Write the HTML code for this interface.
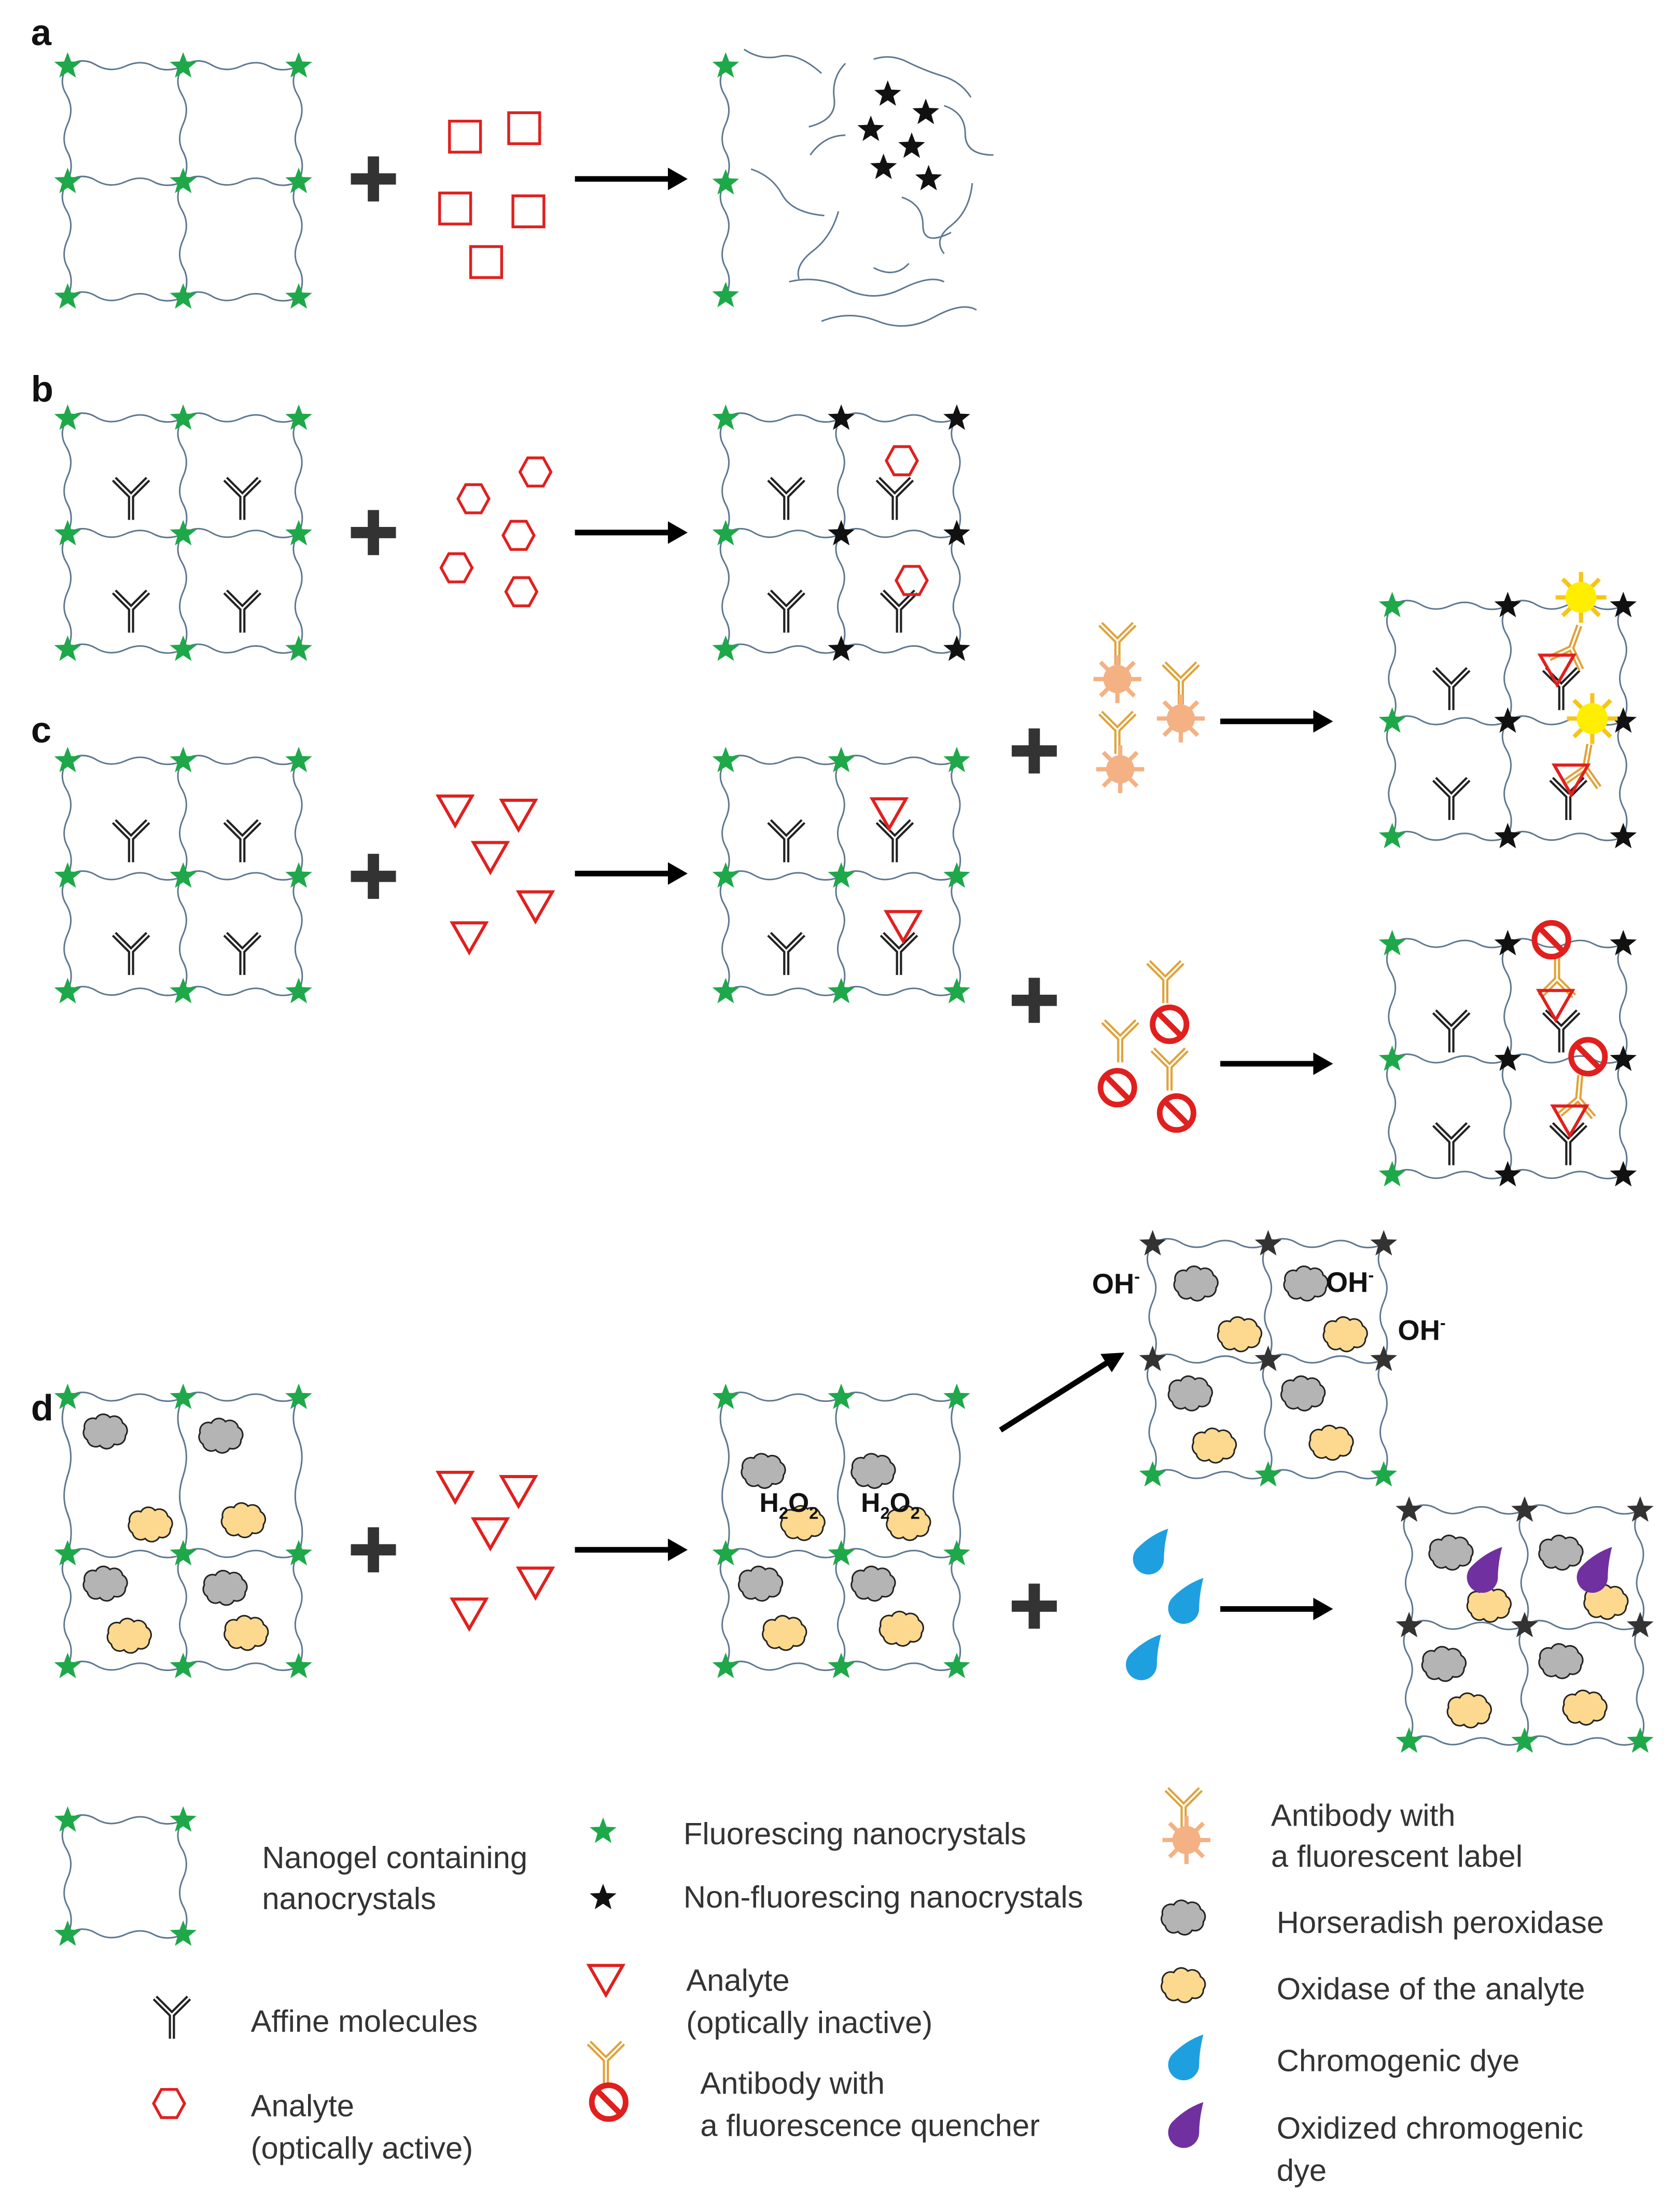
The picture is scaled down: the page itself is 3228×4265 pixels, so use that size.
<!DOCTYPE html>
<html><head><meta charset="utf-8"><style>
html,body{margin:0;padding:0;background:#fff}
svg{display:block}
text{font-family:"Liberation Sans",sans-serif}
.lg{font-size:22px;fill:#333}
.pl{font-size:26px;font-weight:bold;fill:#111}
</style></head><body>
<svg width="3228" height="4265" viewBox="0 0 1188 1570" preserveAspectRatio="none" xmlns="http://www.w3.org/2000/svg" xmlns:xlink="http://www.w3.org/1999/xlink">
<defs>
<polygon id="st" points="0,-10 2.5,-3.4 9.5,-3.1 4,1.3 5.9,8.1 0,4.2 -5.9,8.1 -4,1.3 -9.5,-3.1 -2.5,-3.4"/>
<use id="gs" xlink:href="#st" fill="#1ea84a"/>
<use id="bs" xlink:href="#st" fill="#111"/>
<use id="ds" xlink:href="#st" fill="#333"/>
<path id="wh" d="M0,0 q10,-7 20,-1 t21,1 t20,0 t21,0" fill="none" stroke="#5f7890" stroke-width="1.1"/>
<path id="wv" d="M0,0 q-7,10 -1,20 t1,21 t0,20 t0,21" fill="none" stroke="#5f7890" stroke-width="1.1"/>
<g id="grid">
<use xlink:href="#wh" y="0"/><use xlink:href="#wh" x="82" y="0"/>
<use xlink:href="#wh" y="82"/><use xlink:href="#wh" x="82" y="82"/>
<use xlink:href="#wh" y="164"/><use xlink:href="#wh" x="82" y="164"/>
<use xlink:href="#wv" x="0"/><use xlink:href="#wv" x="0" y="82"/>
<use xlink:href="#wv" x="82"/><use xlink:href="#wv" x="82" y="82"/>
<use xlink:href="#wv" x="164"/><use xlink:href="#wv" x="164" y="82"/>
</g>
<g id="gridD">
<use xlink:href="#wh" y="0"/><use xlink:href="#wh" x="82" y="0"/>
<use xlink:href="#wh" y="111"/><use xlink:href="#wh" x="82" y="111"/>
<use xlink:href="#wh" y="191"/><use xlink:href="#wh" x="82" y="191"/>
<use xlink:href="#wv" transform="scale(1,1.353)"/><use xlink:href="#wv" transform="translate(82,0) scale(1,1.353)"/><use xlink:href="#wv" transform="translate(164,0) scale(1,1.353)"/>
<use xlink:href="#wv" transform="translate(0,111) scale(1,0.976)"/><use xlink:href="#wv" transform="translate(82,111) scale(1,0.976)"/><use xlink:href="#wv" transform="translate(164,111) scale(1,0.976)"/>
</g>
<g id="gstars"><use xlink:href="#gs"/><use xlink:href="#gs" x="82"/><use xlink:href="#gs" x="164"/><use xlink:href="#gs" y="82"/><use xlink:href="#gs" x="82" y="82"/><use xlink:href="#gs" x="164" y="82"/><use xlink:href="#gs" y="164"/><use xlink:href="#gs" x="82" y="164"/><use xlink:href="#gs" x="164" y="164"/></g>
<g id="mixstars"><use xlink:href="#gs"/><use xlink:href="#bs" x="82"/><use xlink:href="#bs" x="164"/><use xlink:href="#gs" y="82"/><use xlink:href="#bs" x="82" y="82"/><use xlink:href="#bs" x="164" y="82"/><use xlink:href="#gs" y="164"/><use xlink:href="#bs" x="82" y="164"/><use xlink:href="#bs" x="164" y="164"/></g>
<g id="ab"><path d="M0,17 V0 L-12,-12 M0,0 L12,-12" fill="none" stroke="#222" stroke-width="4.4"/><path d="M0,17 V0 L-12,-12 M0,0 L12,-12" fill="none" stroke="#fff" stroke-width="1.3"/></g>
<g id="yab"><path d="M0,17 V0 L-12,-12 M0,0 L12,-12" fill="none" stroke="#e0a33a" stroke-width="4.4"/><path d="M0,17 V0 L-12,-12 M0,0 L12,-12" fill="none" stroke="#fff" stroke-width="1.3"/></g>
<polygon id="hex" points="-11,0 -5.5,-10 5.5,-10 11,0 5.5,10 -5.5,10" fill="none" stroke="#e0201e" stroke-width="2"/>
<rect id="sq" x="-11" y="-11" width="22" height="22" fill="none" stroke="#e0201e" stroke-width="2"/>
<polygon id="tri" points="-12,-10 12,-10 0,11" fill="none" stroke="#e0201e" stroke-width="2.2"/>
<g id="fl"><g stroke="#f4b183" stroke-width="3"><path d="M0,-17 V17 M-17,0 H17 M-12,-12 L12,12 M-12,12 L12,-12"/></g><circle r="10" fill="#f4b183"/></g>
<g id="sun"><g stroke="#f5c518" stroke-width="3"><path d="M0,-18 V18 M-18,0 H18 M-13,-13 L13,13 M-13,13 L13,-13"/></g><circle r="11" fill="#ffee00"/></g>
<g id="q"><circle r="12" fill="none" stroke="#e0201e" stroke-width="4"/><path d="M-8,-8 L8,8" stroke="#e0201e" stroke-width="4"/></g>
<path id="cloud" d="M-15,-3 a6,6 0 0 1 8,-7 a6,6 0 0 1 10,-1 a6,6 0 0 1 9,4 a6,6 0 0 1 2,9 a6,6 0 0 1 -8,6 a6,6 0 0 1 -10,1 a6,6 0 0 1 -9,-4 a6,6 0 0 1 -2,-8z" stroke="#222" stroke-width="1.1"/>
<use id="gc" xlink:href="#cloud" fill="#b4b4b4"/>
<use id="yc" xlink:href="#cloud" fill="#fcd98e"/>
<path id="drop" d="M14,-20 Q11,-8 11,2 A11,11 0 1 1 -8,-6 Q2,-16 14,-20z"/>
<g id="plus"><rect x="-16" y="-4" width="32" height="8" fill="#333"/><rect x="-4" y="-16" width="8" height="32" fill="#333"/></g>
<g id="arr"><line x1="0" y1="0" x2="68" y2="0" stroke="#000" stroke-width="4"/><polygon points="66,-8 80,0 66,8" fill="#000"/></g>
</defs>

<text class="pl" x="22" y="32">a</text>
<text class="pl" x="22" y="285">b</text>
<text class="pl" x="22" y="527">c</text>
<text class="pl" x="22" y="1008">d</text>

<!-- PANEL A -->
<use xlink:href="#grid" x="48" y="47"/><use xlink:href="#gstars" x="48" y="47"/>
<use xlink:href="#plus" x="265" y="127"/>
<use xlink:href="#sq" x="330" y="97"/><use xlink:href="#sq" x="372" y="91"/><use xlink:href="#sq" x="323" y="148"/><use xlink:href="#sq" x="375" y="150"/><use xlink:href="#sq" x="345" y="186"/>
<use xlink:href="#arr" x="408" y="127"/>
<use xlink:href="#wv" x="515" y="47"/><use xlink:href="#wv" x="515" y="129"/>
<g fill="none" stroke="#5f7890" stroke-width="1.1">
<path d="M528,35 q12,8 25,5 t30,12"/>
<path d="M533,120 q15,5 22,18 t30,15"/>
<path d="M575,110 q10,-14 25,-14"/>
<path d="M600,45 q-10,10 -8,25 t-18,20"/>
<path d="M620,42 q12,-4 24,2 t25,10 t20,15"/>
<path d="M670,75 q15,5 15,20 t20,15"/>
<path d="M595,150 q-5,18 -18,28 t-10,20"/>
<path d="M640,140 q15,5 15,20 t20,5"/>
<path d="M690,130 q-2,20 -15,30 t-5,20"/>
<path d="M560,200 q20,-5 40,5 t40,0 t30,-5"/>
<path d="M583,228 q20,-8 40,0 t40,-3 t30,-5"/>
<path d="M620,190 q15,8 25,-3"/>
</g>
<use xlink:href="#gs" x="515" y="47"/><use xlink:href="#gs" x="515" y="130"/><use xlink:href="#gs" x="515" y="210"/>
<use xlink:href="#bs" x="630" y="67"/><use xlink:href="#bs" x="657" y="80"/><use xlink:href="#bs" x="618" y="92"/><use xlink:href="#bs" x="647" y="104"/><use xlink:href="#bs" x="627" y="119"/><use xlink:href="#bs" x="659" y="127"/>

<!-- PANEL B -->
<use xlink:href="#grid" x="48" y="297"/><use xlink:href="#gstars" x="48" y="297"/>
<use xlink:href="#ab" x="93" y="352"/><use xlink:href="#ab" x="172" y="352"/><use xlink:href="#ab" x="93" y="432"/><use xlink:href="#ab" x="172" y="432"/>
<use xlink:href="#plus" x="265" y="378"/>
<use xlink:href="#hex" x="380" y="335"/><use xlink:href="#hex" x="336" y="354"/><use xlink:href="#hex" x="368" y="380"/><use xlink:href="#hex" x="324" y="403"/><use xlink:href="#hex" x="370" y="420"/>
<use xlink:href="#arr" x="408" y="378"/>
<use xlink:href="#grid" x="515" y="297"/><use xlink:href="#mixstars" x="515" y="297"/>
<use xlink:href="#ab" x="558" y="352"/><use xlink:href="#ab" x="635" y="352"/><use xlink:href="#ab" x="558" y="432"/><use xlink:href="#ab" x="638" y="432"/>
<use xlink:href="#hex" x="640" y="327"/><use xlink:href="#hex" x="647" y="412"/>

<!-- PANEL C -->
<use xlink:href="#grid" x="48" y="540"/><use xlink:href="#gstars" x="48" y="540"/>
<use xlink:href="#ab" x="93" y="595"/><use xlink:href="#ab" x="172" y="595"/><use xlink:href="#ab" x="93" y="675"/><use xlink:href="#ab" x="172" y="675"/>
<use xlink:href="#plus" x="265" y="622"/>
<use xlink:href="#tri" x="323" y="575"/><use xlink:href="#tri" x="368" y="578"/><use xlink:href="#tri" x="348" y="608"/><use xlink:href="#tri" x="380" y="643"/><use xlink:href="#tri" x="333" y="665"/>
<use xlink:href="#arr" x="408" y="620"/>
<use xlink:href="#grid" x="515" y="540"/><use xlink:href="#gstars" x="515" y="540"/>
<use xlink:href="#ab" x="558" y="595"/><use xlink:href="#ab" x="635" y="595"/><use xlink:href="#ab" x="558" y="675"/><use xlink:href="#ab" x="638" y="675"/>
<use xlink:href="#tri" x="631" y="577"/><use xlink:href="#tri" x="641" y="657"/>

<use xlink:href="#plus" x="734" y="533"/>
<use xlink:href="#yab" x="793" y="455"/><use xlink:href="#fl" x="793" y="482"/>
<use xlink:href="#yab" x="838" y="483"/><use xlink:href="#fl" x="838" y="510"/>
<use xlink:href="#yab" x="793" y="518"/><use xlink:href="#fl" x="795" y="546"/>
<use xlink:href="#arr" x="866" y="512"/>
<use xlink:href="#grid" x="988" y="430"/><use xlink:href="#mixstars" x="988" y="430"/>
<use xlink:href="#ab" x="1030" y="487"/><use xlink:href="#ab" x="1108" y="487"/><use xlink:href="#ab" x="1030" y="565"/><use xlink:href="#ab" x="1113" y="565"/>
<use xlink:href="#yab" transform="translate(1115,460) rotate(200)"/><use xlink:href="#yab" transform="translate(1125,545) rotate(190)"/>
<use xlink:href="#tri" x="1105" y="475"/><use xlink:href="#tri" x="1115" y="553"/>
<use xlink:href="#sun" x="1122" y="424"/><use xlink:href="#sun" x="1130" y="510"/>

<use xlink:href="#plus" x="734" y="710"/>
<use xlink:href="#yab" x="827" y="695"/><use xlink:href="#q" x="830" y="727"/>
<use xlink:href="#yab" x="795" y="737"/><use xlink:href="#q" x="793" y="772"/>
<use xlink:href="#yab" x="830" y="757"/><use xlink:href="#q" x="835" y="790"/>
<use xlink:href="#arr" x="866" y="755"/>
<use xlink:href="#grid" x="988" y="670"/><use xlink:href="#mixstars" x="988" y="670"/>
<use xlink:href="#ab" x="1030" y="730"/><use xlink:href="#ab" x="1108" y="730"/><use xlink:href="#ab" x="1030" y="810"/><use xlink:href="#ab" x="1113" y="810"/>
<use xlink:href="#yab" transform="translate(1105,695) rotate(180)"/><use xlink:href="#yab" transform="translate(1120,780) rotate(185)"/>
<use xlink:href="#tri" x="1104" y="713"/><use xlink:href="#tri" x="1114" y="795"/>
<use xlink:href="#q" x="1101" y="667"/><use xlink:href="#q" x="1127" y="750"/>

<!-- PANEL D -->
<use xlink:href="#gridD" x="48" y="992"/>
<use xlink:href="#gs" x="48" y="992"/><use xlink:href="#gs" x="130" y="992"/><use xlink:href="#gs" x="212" y="992"/><use xlink:href="#gs" x="48" y="1103"/><use xlink:href="#gs" x="130" y="1103"/><use xlink:href="#gs" x="212" y="1103"/><use xlink:href="#gs" x="48" y="1183"/><use xlink:href="#gs" x="130" y="1183"/><use xlink:href="#gs" x="212" y="1183"/>
<use xlink:href="#gc" x="75" y="1017"/><use xlink:href="#gc" x="157" y="1020"/><use xlink:href="#gc" x="75" y="1125"/><use xlink:href="#gc" x="160" y="1128"/>
<use xlink:href="#yc" x="107" y="1083"/><use xlink:href="#yc" x="173" y="1080"/><use xlink:href="#yc" x="92" y="1162"/><use xlink:href="#yc" x="175" y="1160"/>
<use xlink:href="#plus" x="265" y="1100"/>
<use xlink:href="#tri" x="323" y="1055"/><use xlink:href="#tri" x="368" y="1058"/><use xlink:href="#tri" x="348" y="1088"/><use xlink:href="#tri" x="380" y="1123"/><use xlink:href="#tri" x="333" y="1145"/>
<use xlink:href="#arr" x="408" y="1100"/>
<use xlink:href="#gridD" x="515" y="992"/>
<use xlink:href="#gs" x="515" y="992"/><use xlink:href="#gs" x="597" y="992"/><use xlink:href="#gs" x="679" y="992"/><use xlink:href="#gs" x="515" y="1103"/><use xlink:href="#gs" x="597" y="1103"/><use xlink:href="#gs" x="679" y="1103"/><use xlink:href="#gs" x="515" y="1183"/><use xlink:href="#gs" x="597" y="1183"/><use xlink:href="#gs" x="679" y="1183"/>
<use xlink:href="#gc" x="542" y="1045"/><use xlink:href="#gc" x="620" y="1045"/><use xlink:href="#gc" x="540" y="1125"/><use xlink:href="#gc" x="620" y="1125"/>
<use xlink:href="#yc" x="570" y="1082"/><use xlink:href="#yc" x="645" y="1082"/><use xlink:href="#yc" x="557" y="1160"/><use xlink:href="#yc" x="640" y="1157"/>
<text x="539" y="1073" font-size="19" font-weight="bold" fill="#111">H<tspan font-size="12" dy="5">2</tspan><tspan dy="-5">O</tspan><tspan font-size="12" dy="5">2</tspan></text>
<text x="611" y="1073" font-size="19" font-weight="bold" fill="#111">H<tspan font-size="12" dy="5">2</tspan><tspan dy="-5">O</tspan><tspan font-size="12" dy="5">2</tspan></text>
<line x1="710" y1="1015" x2="786" y2="967" stroke="#000" stroke-width="4"/>
<polygon points="798,960 781,961 789,974" fill="#000"/>

<use xlink:href="#grid" x="818" y="883"/>
<use xlink:href="#ds" x="818" y="883"/><use xlink:href="#ds" x="900" y="883"/><use xlink:href="#ds" x="982" y="883"/><use xlink:href="#ds" x="818" y="965"/><use xlink:href="#ds" x="900" y="965"/><use xlink:href="#ds" x="982" y="965"/>
<use xlink:href="#gs" x="818" y="1047"/><use xlink:href="#gs" x="900" y="1047"/><use xlink:href="#gs" x="982" y="1047"/>
<use xlink:href="#gc" x="849" y="912"/><use xlink:href="#gc" x="927" y="912"/><use xlink:href="#gc" x="845" y="990"/><use xlink:href="#gc" x="925" y="990"/>
<use xlink:href="#yc" x="880" y="948"/><use xlink:href="#yc" x="955" y="948"/><use xlink:href="#yc" x="862" y="1027"/><use xlink:href="#yc" x="945" y="1025"/>
<text x="775" y="918" font-size="20" font-weight="bold" fill="#111">OH<tspan font-size="12" dy="-8">-</tspan></text>
<text x="941" y="917" font-size="20" font-weight="bold" fill="#111">OH<tspan font-size="12" dy="-8">-</tspan></text>
<text x="992" y="951" font-size="20" font-weight="bold" fill="#111">OH<tspan font-size="12" dy="-8">-</tspan></text>

<use xlink:href="#plus" x="734" y="1140"/>
<use xlink:href="#drop" x="815" y="1105" fill="#1ea0e0"/><use xlink:href="#drop" x="840" y="1140" fill="#1ea0e0"/><use xlink:href="#drop" x="810" y="1180" fill="#1ea0e0"/>
<use xlink:href="#arr" x="866" y="1142"/>
<use xlink:href="#grid" x="1000" y="1072"/>
<use xlink:href="#ds" x="1000" y="1072"/><use xlink:href="#ds" x="1082" y="1072"/><use xlink:href="#ds" x="1164" y="1072"/><use xlink:href="#ds" x="1000" y="1154"/><use xlink:href="#ds" x="1082" y="1154"/><use xlink:href="#ds" x="1164" y="1154"/>
<use xlink:href="#gs" x="1000" y="1236"/><use xlink:href="#gs" x="1082" y="1236"/><use xlink:href="#gs" x="1164" y="1236"/>
<use xlink:href="#gc" x="1030" y="1103"/><use xlink:href="#gc" x="1108" y="1103"/><use xlink:href="#gc" x="1025" y="1182"/><use xlink:href="#gc" x="1108" y="1180"/>
<use xlink:href="#yc" x="1057" y="1140"/><use xlink:href="#yc" x="1140" y="1138"/><use xlink:href="#yc" x="1043" y="1215"/><use xlink:href="#yc" x="1125" y="1213"/>
<use xlink:href="#drop" x="1052" y="1118" fill="#7030a0"/><use xlink:href="#drop" x="1130" y="1118" fill="#7030a0"/>

<!-- LEGEND -->
<use xlink:href="#wh" x="48" y="1292"/><use xlink:href="#wh" x="48" y="1373"/>
<use xlink:href="#wv" x="48" y="1292"/><use xlink:href="#wv" x="130" y="1292"/>
<use xlink:href="#gs" x="48" y="1292"/><use xlink:href="#gs" x="130" y="1292"/><use xlink:href="#gs" x="48" y="1373"/><use xlink:href="#gs" x="130" y="1373"/>
<text class="lg" x="186" y="1326">Nanogel containing</text>
<text class="lg" x="186" y="1355">nanocrystals</text>
<use xlink:href="#ab" x="122" y="1430"/>
<text class="lg" x="178" y="1442">Affine molecules</text>
<use xlink:href="#hex" x="120" y="1493"/>
<text class="lg" x="178" y="1502">Analyte</text>
<text class="lg" x="178" y="1532">(optically active)</text>

<use xlink:href="#gs" x="428" y="1300"/>
<text class="lg" x="485" y="1309">Fluorescing nanocrystals</text>
<use xlink:href="#bs" x="428" y="1347"/>
<text class="lg" x="485" y="1354">Non-fluorescing nanocrystals</text>
<use xlink:href="#tri" x="430" y="1405"/>
<text class="lg" x="487" y="1413">Analyte</text>
<text class="lg" x="487" y="1443">(optically inactive)</text>
<use xlink:href="#yab" x="430" y="1462"/><use xlink:href="#q" x="432" y="1492"/>
<text class="lg" x="497" y="1486">Antibody with</text>
<text class="lg" x="497" y="1516">a fluorescence quencher</text>

<use xlink:href="#yab" x="840" y="1282"/><use xlink:href="#fl" x="842" y="1306"/>
<text class="lg" x="902" y="1296">Antibody with</text>
<text class="lg" x="902" y="1325">a fluorescent label</text>
<use xlink:href="#gc" x="840" y="1362"/>
<text class="lg" x="906" y="1372">Horseradish peroxidase</text>
<use xlink:href="#yc" x="840" y="1410"/>
<text class="lg" x="906" y="1419">Oxidase of the analyte</text>
<use xlink:href="#drop" x="840" y="1464" fill="#1ea0e0"/>
<text class="lg" x="906" y="1470">Chromogenic dye</text>
<use xlink:href="#drop" x="840" y="1512" fill="#7030a0"/>
<text class="lg" x="906" y="1518">Oxidized chromogenic</text>
<text class="lg" x="906" y="1548">dye</text>
</svg>
</body></html>
